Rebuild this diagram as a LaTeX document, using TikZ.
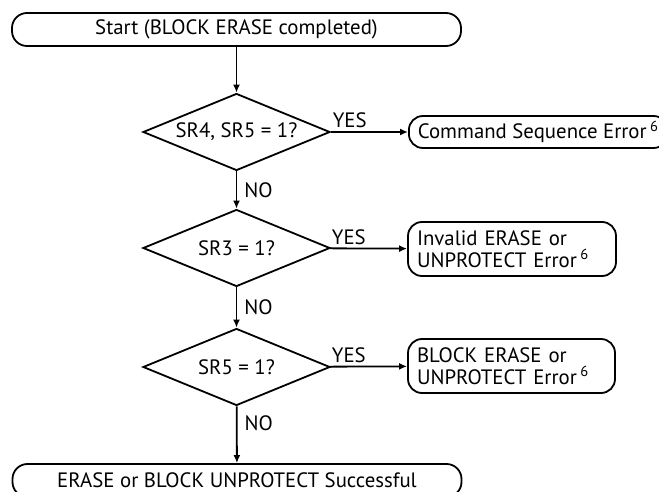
\documentclass[tikz,border=0pt]{standalone}
\usepackage{fontspec}
\setmainfont{PT Sans}
\usetikzlibrary{shapes.geometric,arrows.meta}

\tikzset{
  term/.style={draw, line width=1.8pt, rounded corners=15pt, minimum width=449pt, minimum height=33pt, inner sep=0pt},
  errbox/.style={draw, line width=1.8pt, rounded corners=14pt, inner xsep=9pt, inner ysep=0pt, align=left},
  test/.style={draw, diamond, aspect=2.4, line width=1.8pt, inner sep=0pt, minimum width=187pt, minimum height=77pt},
  flow/.style={line width=1.8pt, arrows={-Latex[length=8pt,width=7pt]}},
  yes/.style={above right, inner xsep=1pt, inner ysep=3pt, pos=0},
  no/.style={right=7pt, inner sep=0pt}
}

\begin{document}
\begin{tikzpicture}[x=1pt,y=-1pt,font=\fontsize{20.8}{22}\selectfont]

\useasboundingbox (0,0) rectangle (659,492);

\node [term] (start) at (236.5,29.5) {Start (BLOCK ERASE completed)};

\node [test] (sr45) at (236.5,132) {SR4, SR5 = 1?};
\node [test] (sr3) at (236.5,248) {SR3 = 1?};
\node [test] (sr5) at (236.5,367) {SR5 = 1?};

\node [errbox, minimum width=251pt, minimum height=32pt, anchor=west] (cmderr) at (408,132) {Command Sequence Error\,\textsuperscript{6}};
\node [errbox, text width=190pt, minimum height=54pt] (unperr) at (512,249) {Invalid ERASE or\\UNPROTECT Error\,\textsuperscript{6}};
\node [errbox, text width=189pt, minimum height=54pt] (blkerr) at (511.5,366) {BLOCK ERASE or\\UNPROTECT Error\,\textsuperscript{6}};

\node [term] (done) at (237,480.5) {ERASE or BLOCK UNPROTECT Successful};

% main line
\draw [flow] (start) -- (sr45);
\draw [flow] (sr45) -- node [no] {NO} (sr3);
\draw [flow] (sr3) -- node [no] {NO} (sr5);
\draw [flow] (sr5) -- node [no, pos=0.3] {NO} (done);

% error branches
\draw [flow] (sr45) -- node [yes] {YES} (cmderr);
\draw [flow] (sr3) -- node [yes] {YES} (unperr);
\draw [flow] (sr5) -- node [yes] {YES} (blkerr);

\end{tikzpicture}
\end{document}
